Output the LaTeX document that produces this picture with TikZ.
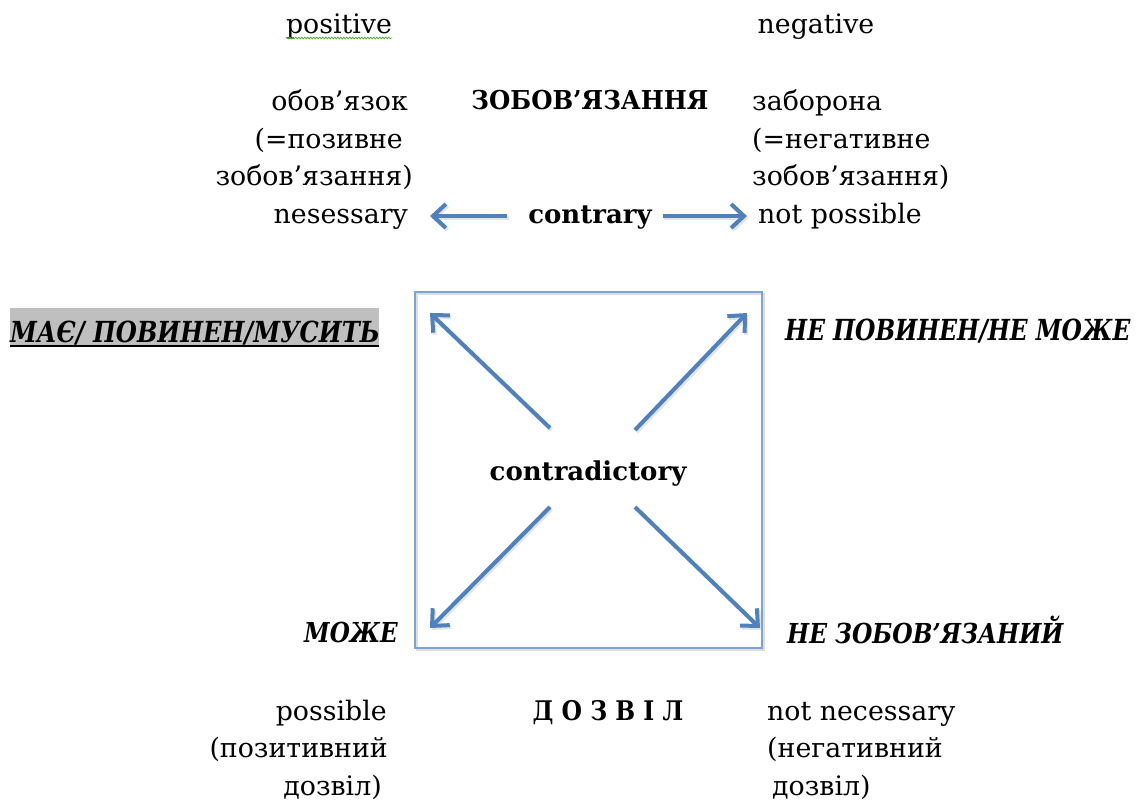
\documentclass[tikz,border=0pt]{standalone}
\usepackage{fontspec}
\setmainfont{DejaVu Serif}
\usetikzlibrary{arrows.meta,decorations.pathmorphing}
\definecolor{arrblue}{RGB}{79,129,189}
\definecolor{boxblue}{RGB}{125,163,212}
\definecolor{hlgray}{RGB}{191,191,191}
\definecolor{spellgreen}{RGB}{90,170,60}
\begin{document}
\begin{tikzpicture}[x=1pt,y=-1pt,
  lbl/.style={inner sep=0pt, text height=20pt, text depth=6pt, font=\fontsize{26.8}{30}\selectfont},
  bld/.style={lbl, font=\fontsize{26}{30}\selectfont\bfseries},
  bitl/.style={inner sep=0pt, font=\fontsize{#1}{#1}\selectfont\bfseries\itshape},
  arr/.style={draw=arrblue, line width=4pt, -{Straight Barb[length=13pt,width=24pt,line width=4pt]}},
  shd/.style={draw=black!30, opacity=0.35, line width=4pt, -{Straight Barb[length=13pt,width=24pt,line width=4pt]}, transform canvas={shift={(1.5pt,-2pt)}}}
]
\useasboundingbox[fill=white] (0,0) rectangle (1140,803);

% headings
\node[lbl, anchor=base] (pos) at (339,33) {positive};
\node[lbl, anchor=base] (neg) at (816,33) {negative};
\draw[spellgreen, line width=0.8pt, decorate, decoration={snake, amplitude=0.8pt, segment length=3pt}] (pos.base west) ++(0,5) -- (pos.base east |- 0,38);

% left block
\node[lbl, anchor=base east] (l1) at (408,110) {обов’язок};
\node[lbl, anchor=base east] (l2) at (403,148) {(=позивне};
\node[lbl, anchor=base east] (l3) at (413,185) {зобов’язання)};
\node[lbl, anchor=base east] (nec) at (408,223) {nesessary};

% right block
\node[lbl, anchor=base west] (r1) at (752,110) {заборона};
\node[lbl, anchor=base west] (r2) at (752,148) {(=негативне};
\node[lbl, anchor=base west] (r3) at (752,185) {зобов’язання)};
\node[lbl, anchor=base west] (nposs) at (758,223) {not possible};

% centre top
\node[bld, anchor=base] (zob) at (590,109) {\scalebox{0.94}[1]{ЗОБОВ’ЯЗАННЯ}};
\node[bld, anchor=base] (contr) at (590,223) {contrary};

\draw[shd, shorten <=21pt, shorten >=22pt] (contr.west) -- (contr.west -| nec.east);
\draw[shd, shorten <=11pt, shorten >=11pt] (contr.east) -- (contr.east -| nposs.west);
\draw[arr, shorten <=21pt, shorten >=22pt] (contr.west) -- (contr.west -| nec.east);
\draw[arr, shorten <=11pt, shorten >=11pt] (contr.east) -- (contr.east -| nposs.west);

% square
\draw[black!25, opacity=0.5, line width=1.5pt] (417,294) rectangle (764,650);
\node[draw=boxblue, line width=1.3pt, minimum width=347pt, minimum height=356pt, inner sep=0pt] (box) at (588.5,470) {};
\node[bld, anchor=base] (cd) at (588,480) {contradictory};

\coordinate (tTL) at (430,313);
\coordinate (tTR) at (747,313);
\coordinate (tBL) at (430,628);
\coordinate (tBR) at (760,628);
\path (cd.center) ++(-38,-45) coordinate (sTL);
\path (cd.center) ++(47,-43) coordinate (sTR);
\path (cd.center) ++(-38,34) coordinate (sBL);
\path (cd.center) ++(47,34) coordinate (sBR);
\foreach \s/\t in {sTL/tTL, sTR/tTR, sBL/tBL, sBR/tBR} {
  \draw[shd] (\s) -- (\t);
  \draw[arr] (\s) -- (\t);
}

% corner labels
\fill[hlgray] (10,308) rectangle (379,347);
\node[bitl=29, anchor=base west] (must) at (10,342) {\scalebox{0.834}[1]{МАЄ/ ПОВИНЕН/МУСИТЬ}};
\draw[black, line width=2pt] (10,345.5) -- (379,345.5);
\node[bitl=29, anchor=base west] (notmust) at (785,340) {\scalebox{0.805}[1]{НЕ ПОВИНЕН/НЕ МОЖЕ}};
\node[bitl=27.5, anchor=base east] (may) at (398,642) {\scalebox{0.84}[1]{МОЖЕ}};
\node[bitl=27.5, anchor=base west] (notobl) at (787,643) {\scalebox{0.85}[1]{НЕ ЗОБОВ’ЯЗАНИЙ}};

% bottom block
\node[lbl, anchor=base east] (b1) at (387,720) {possible};
\node[lbl, anchor=base east] (b2) at (388,757) {(позитивний};
\node[lbl, anchor=base east] (b3) at (382,795) {дозвіл)};
\node[bld, anchor=base] (perm) at (608,720) {\fontsize{27}{30}\selectfont\scalebox{0.87}[1]{Д О З В І Л}};
\node[lbl, anchor=base west] (c1) at (767,720) {not necessary};
\node[lbl, anchor=base west] (c2) at (767,757) {(негативний};
\node[lbl, anchor=base west] (c3) at (772,795) {дозвіл)};
\end{tikzpicture}
\end{document}
